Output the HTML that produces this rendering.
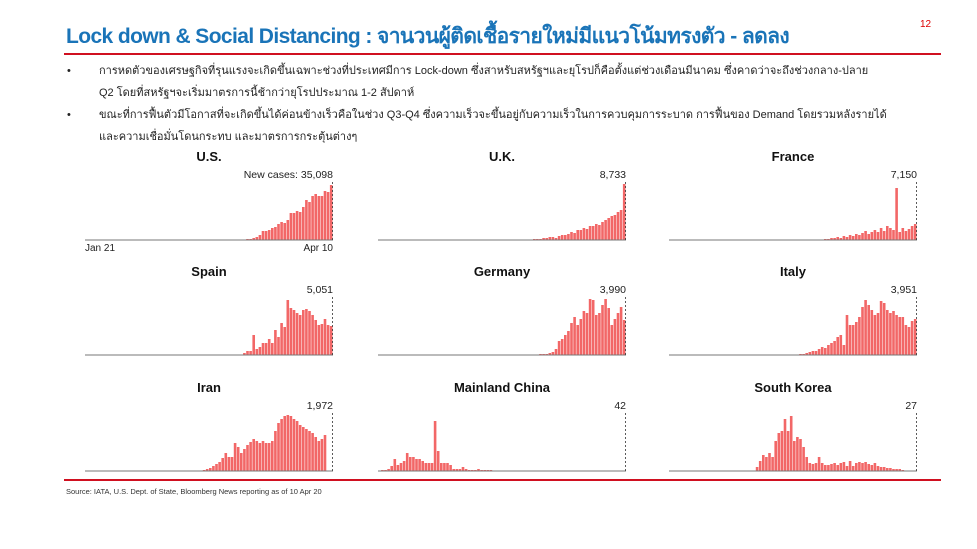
<!DOCTYPE html>
<html><head><meta charset="utf-8"><style>
body{margin:0;background:#fff;width:977px;height:549px;overflow:hidden;position:relative;font-family:"Liberation Sans",sans-serif}
.t{position:absolute;white-space:nowrap}
</style></head><body>
<div class="t" style="left:66px;top:20px;font-size:21px;font-weight:bold;color:#1a74b8;font-family:'Liberation Sans','Noto Sans CJK SC',sans-serif;letter-spacing:-0.6px">Lock down &amp; Social Distancing : จานวนผู้ติดเชื้อรายใหม่มีแนวโน้มทรงตัว - ลดลง</div>
<div class="t" style="left:920px;top:19px;font-size:10px;color:#d00">12</div>
<div style="position:absolute;left:64px;top:53px;width:877px;height:1.5px;background:#d01020"></div>
<div class="t" style="left:67px;top:60px;font-size:11px;line-height:22px;color:#222;font-family:'Liberation Sans','Noto Sans CJK SC',sans-serif">•</div>
<div class="t" style="left:99px;top:60px;font-size:11px;line-height:22px;color:#222;font-family:'Liberation Sans','Noto Sans CJK SC',sans-serif">การหดตัวของเศรษฐกิจที่รุนแรงจะเกิดขึ้นเฉพาะช่วงที่ประเทศมีการ Lock-down ซึ่งสาหรับสหรัฐฯและยุโรปก็คือตั้งแต่ช่วงเดือนมีนาคม ซึ่งคาดว่าจะถึงช่วงกลาง-ปลาย<br>Q2 โดยที่สหรัฐฯจะเริ่มมาตรการนี้ช้ากว่ายุโรปประมาณ 1-2 สัปดาห์</div>
<div class="t" style="left:67px;top:104px;font-size:11px;line-height:22px;color:#222">•</div>
<div class="t" style="left:99px;top:104px;font-size:11px;line-height:22px;color:#222;font-family:'Liberation Sans','Noto Sans CJK SC',sans-serif">ขณะที่การฟื้นตัวมีโอกาสที่จะเกิดขึ้นได้ค่อนข้างเร็วคือในช่วง Q3-Q4 ซึ่งความเร็วจะขึ้นอยู่กับความเร็วในการควบคุมการระบาด การฟื้นของ Demand โดยรวมหลังรายได้<br>และความเชื่อมั่นโดนกระทบ และมาตรการกระตุ้นต่างๆ</div>
<svg id="s" width="977" height="549" style="position:absolute;left:0;top:0" font-family="Liberation Sans, sans-serif"></svg>
<div style="position:absolute;left:64px;top:479px;width:877px;height:1.5px;background:#d01020"></div>
<div class="t" style="left:66px;top:487px;font-size:7.5px;color:#333">Source:  IATA, U.S. Dept. of State, Bloomberg News reporting as of 10 Apr 20</div>
<script>
function arr(start,v){var a=new Array(80).fill(0);v.forEach(function(x,i){if(start+i<80)a[start+i]=x});return a;}
var C=[
["U.S.",0,0,arr(50,[.3,.5,1,1,2,3,5,9,9,10,12,13,16,18,17,20,27,27,29,28,33,40,38,44,46,44,44,49,48,55]),"New cases: 35,098"],
["U.K.",1,0,arr(48,[.5,.5,1,1,1,2,2,3,3,2,4,5,5,6,8,7,10,10,12,11,14,14,16,15,18,20,22,24,25,28,30,56]),"8,733"],
["France",2,0,arr(50,[1,1,2,2,3,2,4,3,5,4,6,5,7,9,6,8,10,8,12,9,14,12,10,52,8,12,9,11,14,16]),"7,150"],
["Spain",0,1,arr(51,[2,4,4,20,6,8,12,12,16,12,25,18,32,28,55,47,45,42,40,45,46,44,40,35,30,31,36,30,29]),"5,051"],
["Germany",1,1,arr(52,[1,1,1,2,3,6,14,16,20,24,32,38,30,36,44,42,56,55,40,42,50,56,47,30,36,42,48,35]),"3,990"],
["Italy",2,1,arr(42,[1,1,2,3,4,4,6,8,7,10,12,14,18,20,10,40,30,30,33,38,48,55,50,45,40,42,54,52,45,42,44,40,38,38,30,28,34,36]),"3,951"],
["Iran",0,2,arr(38,[1,2,3,5,7,9,13,18,14,14,28,24,18,22,26,29,32,30,28,30,28,28,30,40,48,52,55,56,55,52,50,46,44,42,40,38,34,30,32,36]),"1,972"],
["Mainland China",1,2,arr(0,[0,1,1,2,5,12,6,8,10,18,14,14,12,12,10,8,8,8,50,20,8,8,8,6,2,2,2,4,2,1,1,1,2,1,1,1,1]),"42"],
["South Korea",2,2,arr(28,[4,10,16,14,18,14,30,38,40,52,40,55,30,34,32,24,14,8,7,8,14,8,6,6,7,8,6,8,9,5,10,5,8,9,8,9,7,6,8,5,4,4,3,3,2,2,2,1]),"27"]
];
var X=[85,378,669],B=[240,355,471],W=248,h="";
C.forEach(function(c){var x0=X[c[1]],b=B[c[2]],bw=W/80;
h+='<text x="'+(x0+W/2)+'" y="'+(b-79)+'" font-size="13" font-weight="bold" text-anchor="middle" fill="#111">'+c[0]+'</text>';
h+='<text x="'+(x0+W)+'" y="'+(b-62)+'" font-size="10.5" text-anchor="end" fill="#222">'+c[4]+'</text>';
c[3].forEach(function(v,i){if(v>0)h+='<rect x="'+(x0+i*bw).toFixed(2)+'" y="'+(b-v)+'" width="'+(bw-0.5).toFixed(2)+'" height="'+v+'" fill="#f26767"/>';});
h+='<line x1="'+x0+'" y1="'+b+'" x2="'+(x0+W)+'" y2="'+b+'" stroke="#777" stroke-width="1"/>';
h+='<line x1="'+(x0+W-0.5)+'" y1="'+(b-58)+'" x2="'+(x0+W-0.5)+'" y2="'+b+'" stroke="#333" stroke-width="0.8" stroke-dasharray="2,2"/>';
});
h+='<text x="85" y="251" font-size="10" fill="#222">Jan 21</text><text x="333" y="251" font-size="10" text-anchor="end" fill="#222">Apr 10</text>';
document.getElementById("s").innerHTML=h;
</script>
</body></html>
